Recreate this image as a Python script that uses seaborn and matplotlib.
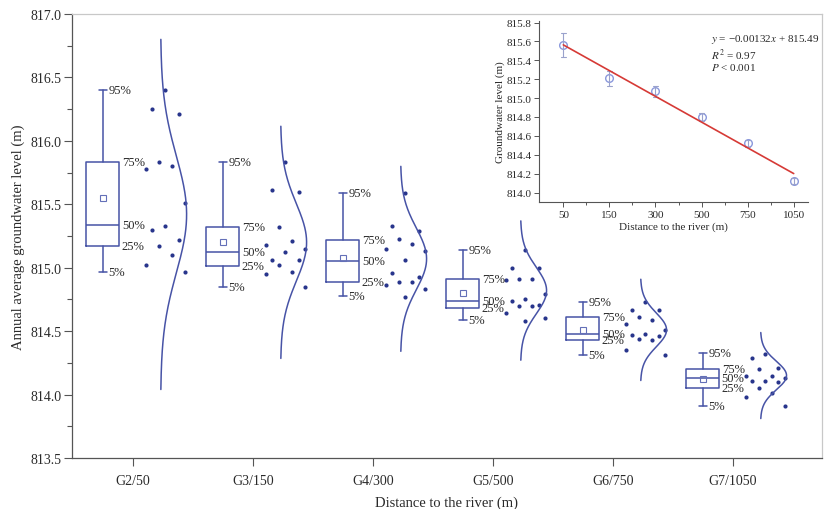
import numpy as np
import pandas as pd
import seaborn as sns
import matplotlib.pyplot as plt
from matplotlib.ticker import MultipleLocator, FormatStrFormatter

sns.set_style("ticks")
plt.rcParams["font.family"] = ["Liberation Serif", "DejaVu Serif"]
plt.rcParams["mathtext.fontset"] = "stix"

sites = ["G2/50", "G3/150", "G4/300", "G5/500", "G6/750", "G7/1050"]
distances = ["50", "150", "300", "500", "750", "1050"]

# yearly values
g2 = [816.40, 816.25, 816.21, 815.83, 815.80, 815.78, 815.51, 815.33, 815.30,
      815.22, 815.17, 815.10, 815.02, 814.97]
g3 = [815.83, 815.61, 815.60, 815.32, 815.21, 815.18, 815.15, 815.12, 815.06,
      815.06, 815.02, 814.97, 814.95, 814.85]
g4 = [815.59, 815.33, 815.29, 815.23, 815.19, 815.15, 815.13, 815.06, 814.96,
      814.93, 814.89, 814.86, 814.89, 814.83, 814.77]
g5 = [815.14, 815.00, 815.00, 814.91, 814.90, 814.91, 814.79, 814.74, 814.75,
      814.71, 814.70, 814.70, 814.64, 814.60, 814.58]
g6 = [814.73, 814.67, 814.67, 814.61, 814.59, 814.56, 814.48, 814.47, 814.51,
      814.46, 814.43, 814.44, 814.35, 814.31]
g7 = [814.32, 814.29, 814.21, 814.20, 814.11, 814.15, 814.15, 814.13, 814.10,
      814.11, 814.05, 814.01, 813.98, 813.91]
points = [g2, g3, g4, g5, g6, g7]

# box statistics as printed on the chart
p05 = [814.97, 814.85, 814.78, 814.59, 814.31, 813.91]
p25 = [815.17, 815.01, 814.89, 814.68, 814.43, 814.05]
p50 = [815.34, 815.12, 815.05, 814.74, 814.48, 814.13]
p75 = [815.83, 815.32, 815.22, 814.91, 814.61, 814.20]
p95 = [816.40, 815.83, 815.59, 815.14, 814.73, 814.33]
means = [815.55, 815.20, 815.08, 814.80, 814.51, 814.12]

# normal curve parameters
curve_mu = [815.42, 815.20, 815.07, 814.82, 814.51, 814.15]
curve_sd = [0.46, 0.305, 0.243, 0.183, 0.133, 0.113]

box_c = "#4753a6"
dot_c = "#28358c"
txt_c = "#2a2a2a"


def swarm_offsets(vals, step):
    # spread dots sideways, picking the column with the widest free gap
    vals = np.asarray(vals)
    cols = [0, -2, 2, -1, 1, -3, 3]
    placed = {c: [] for c in cols}
    out = np.zeros(len(vals))
    for i in np.argsort(vals)[::-1]:
        gaps = [min([abs(vals[i] - v) for v in placed[c]], default=np.inf)
                for c in cols]
        c = cols[int(np.argmax(gaps))]
        placed[c].append(vals[i])
        out[i] = c * step
    return out


fig = plt.figure(figsize=(8.24, 5.10), dpi=100)
ax = fig.add_axes([0.0874, 0.1, 0.9098, 0.8706])

idx = np.arange(len(sites))
box_pos = idx - 0.25
stats = [dict(med=p50[i], q1=p25[i], q3=p75[i], whislo=p05[i], whishi=p95[i],
              mean=means[i], fliers=[]) for i in idx]
line_kw = dict(color=box_c, linewidth=1.1)
ax.bxp(stats, positions=box_pos, widths=0.275, capwidths=0.07,
       showmeans=True, showfliers=False, manage_ticks=False,
       boxprops=line_kw, medianprops=line_kw, whiskerprops=line_kw,
       capprops=line_kw,
       meanprops=dict(marker="s", markerfacecolor="none",
                      markeredgecolor="#6470b8", markersize=4,
                      markeredgewidth=0.8))

for i in idx:
    # percentile labels
    for val, lab, dx in [(p95[i], "95%", 0.045), (p75[i], "75%", 0.157),
                         (p50[i], "50%", 0.157), (p25[i], "25%", 0.157),
                         (p05[i], "5%", 0.045)]:
        ax.text(box_pos[i] + dx, val, lab, fontsize=9, color=txt_c,
                ha="left", va="center")
    # data dots
    xs = i + 0.27 + swarm_offsets(points[i], 0.055)
    sns.scatterplot(x=xs, y=points[i], ax=ax, color=dot_c, s=9,
                    linewidth=0, legend=False)
    # normal curve
    v = np.linspace(curve_mu[i] - 3 * curve_sd[i], curve_mu[i] + 3 * curve_sd[i], 200)
    w = np.exp(-0.5 * ((v - curve_mu[i]) / curve_sd[i]) ** 2)
    ax.plot(i + 0.23 + 0.217 * w, v, color=box_c, linewidth=1.1)

ax.set_xlim(-0.508, 5.74)
ax.set_ylim(813.5, 817.0)
ax.set_xticks(idx, sites)
ax.yaxis.set_major_locator(MultipleLocator(0.5))
ax.yaxis.set_minor_locator(MultipleLocator(0.25))
ax.yaxis.set_major_formatter(FormatStrFormatter("%.1f"))
ax.tick_params(axis="both", which="major", length=5.5, width=0.8,
               color="#555555", labelsize=10, labelcolor=txt_c, pad=2)
ax.tick_params(axis="y", which="minor", length=3.5, width=0.8, color="#555555")
ax.tick_params(axis="x", pad=6)
for s in ["left", "bottom"]:
    ax.spines[s].set_color("#555555")
    ax.spines[s].set_linewidth(0.9)
for s in ["top", "right"]:
    ax.spines[s].set_color("#c8c8c8")
    ax.spines[s].set_linewidth(0.9)
ax.set_xlabel("Distance to the river (m)", fontsize=10.5, color=txt_c, labelpad=6)
ax.set_ylabel("Annual average groundwater level (m)", fontsize=10.5,
              color=txt_c, labelpad=4)

# inset: mean +/- SE with linear fit
df = pd.DataFrame({
    "distance": np.repeat(distances, [len(p) for p in points]),
    "level": np.concatenate(points),
})
axin = fig.add_axes([0.654, 0.602, 0.326, 0.3555])
axin.set_facecolor("none")
sns.pointplot(data=df, x="distance", y="level", order=distances,
              errorbar="se", linestyle="none", marker="o", markersize=5.5,
              markerfacecolor="white", markeredgewidth=1.0, color="#8a98dc",
              capsize=0.12, err_kws={"linewidth": 0.8, "color": "#9aa2cc"},
              ax=axin)
group_means = df.groupby("distance")["level"].mean().reindex(distances)
sns.regplot(x=np.arange(len(distances)), y=group_means.values, scatter=False,
            ci=None, color="#d63a36", line_kws={"linewidth": 1.2}, ax=axin)

axin.set_xlim(-0.53, 5.3)
axin.set_ylim(813.9, 815.82)
axin.set_xticks(np.arange(len(distances)), distances)
axin.set_xticks(np.arange(len(distances) - 1) + 0.5, minor=True)
axin.yaxis.set_major_locator(MultipleLocator(0.2))
axin.yaxis.set_major_formatter(FormatStrFormatter("%.1f"))
axin.tick_params(axis="both", which="major", length=3.5, width=0.7,
                 color="#555555", labelsize=8, labelcolor=txt_c, pad=2)
axin.tick_params(axis="x", which="minor", length=2, width=0.7, color="#555555")
for s in ["top", "right"]:
    axin.spines[s].set_visible(False)
for s in ["left", "bottom"]:
    axin.spines[s].set_color("#555555")
    axin.spines[s].set_linewidth(0.8)
axin.set_xlabel("Distance to the river (m)", fontsize=8, color=txt_c, labelpad=2)
axin.set_ylabel("Groundwater level (m)", fontsize=8, color=txt_c, labelpad=1)

axin.text(0.639, 0.90, r"$y$ = −0.00132$x$ + 815.49", transform=axin.transAxes,
          fontsize=8, color=txt_c, va="center")
axin.text(0.639, 0.815, r"$R^2$ = 0.97", transform=axin.transAxes,
          fontsize=8, color=txt_c, va="center")
axin.text(0.639, 0.745, r"$P$ < 0.001", transform=axin.transAxes,
          fontsize=8, color=txt_c, va="center")

plt.savefig("out.png", dpi=100)
